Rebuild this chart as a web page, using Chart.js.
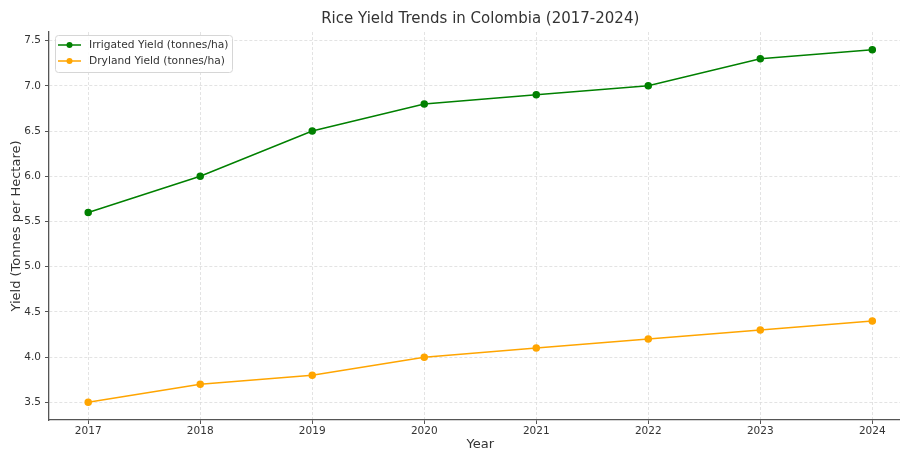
<!DOCTYPE html>
<html>
<head>
<meta charset="utf-8">
<script src="https://cdn.jsdelivr.net/npm/chart.js@4"></script>
<style>
  html, body { margin: 0; padding: 0; background: #fff; overflow: hidden; }
  #wrap { width: 900px; height: 449px; overflow: hidden; position: relative; }
</style>
</head>
<body>
<div id="wrap">
  <canvas id="riceChart" width="916" height="449"></canvas>
</div>
<script>
// Данные графика
const years = [2017, 2018, 2019, 2020, 2021, 2022, 2023, 2024];
const irrigatedYield = [5.6, 6.0, 6.5, 6.8, 6.9, 7.0, 7.3, 7.4];
const drylandYield = [3.5, 3.7, 3.8, 4.0, 4.1, 4.2, 4.3, 4.4];
const yTicks = [3.5, 4.0, 4.5, 5.0, 5.5, 6.0, 6.5, 7.0, 7.5];

const chartTitle = 'Rice Yield Trends in Colombia (2017-2024)';
const font = "'DejaVu Sans', sans-serif";

// Заголовок по центру области графика
const titlePlugin = {
    id: 'centerTitle',
    afterDraw(chart) {
        const ctx = chart.ctx;
        const area = chart.chartArea;
        ctx.save();
        ctx.font = '15px ' + font;
        ctx.fillStyle = '#333';
        ctx.textAlign = 'center';
        ctx.textBaseline = 'middle';
        ctx.fillText(chartTitle, (area.left + area.right) / 2, 19);
        ctx.restore();
    }
};

// Легенда внутри области графика
const legendPlugin = {
    id: 'innerLegend',
    afterDraw(chart) {
        const ctx = chart.ctx;
        const x = 55, y = 35, w = 177, h = 37;
        ctx.save();
        ctx.fillStyle = 'rgba(255,255,255,0.85)';
        ctx.strokeStyle = '#d6d6d6';
        ctx.lineWidth = 1;
        ctx.beginPath();
        ctx.roundRect(x + 0.5, y + 0.5, w, h, 3);
        ctx.fill();
        ctx.stroke();
        chart.data.datasets.forEach((ds, i) => {
            const rowY = 45 + i * 16;
            ctx.strokeStyle = ds.borderColor;
            ctx.lineWidth = 1.5;
            ctx.beginPath();
            ctx.moveTo(58, rowY);
            ctx.lineTo(81, rowY);
            ctx.stroke();
            ctx.fillStyle = ds.borderColor;
            ctx.beginPath();
            ctx.arc(69.5, rowY, 3, 0, Math.PI * 2);
            ctx.fill();
            ctx.fillStyle = '#333';
            ctx.font = '10.7px ' + font;
            ctx.textAlign = 'left';
            ctx.textBaseline = 'middle';
            ctx.fillText(ds.label, 89, rowY + 0.5);
        });
        ctx.restore();
    }
};

const toPoints = (values) => values.map((v, i) => ({ x: years[i], y: v }));

const gridStyle = {
    color: '#dcdcdc',
    lineWidth: 0.8,
    tickColor: '#555',
    tickLength: 4,
    tickWidth: 1
};
const borderStyle = { color: '#555', width: 1.3, dash: [3, 2] };

new Chart(document.getElementById('riceChart'), {
    type: 'line',
    data: {
        datasets: [
            {
                label: 'Irrigated Yield (tonnes/ha)',
                data: toPoints(irrigatedYield),
                borderColor: '#008000',
                backgroundColor: '#008000',
                borderWidth: 1.5,
                pointRadius: 3,
                pointHoverRadius: 3,
                tension: 0
            },
            {
                label: 'Dryland Yield (tonnes/ha)',
                data: toPoints(drylandYield),
                borderColor: '#FFA500',
                backgroundColor: '#FFA500',
                borderWidth: 1.5,
                pointRadius: 3,
                pointHoverRadius: 3,
                tension: 0
            }
        ]
    },
    options: {
        responsive: false,
        animation: false,
        devicePixelRatio: 1,
        layout: { padding: { top: 32, right: 0, left: 0, bottom: 0 } },
        plugins: {
            legend: { display: false },
            title: { display: false },
            tooltip: { enabled: false }
        },
        scales: {
            x: {
                type: 'linear',
                min: 2016.65,
                max: 2024.35,
                grid: gridStyle,
                border: borderStyle,
                ticks: {
                    stepSize: 1,
                    includeBounds: false,
                    padding: 1,
                    color: '#333',
                    font: { family: font, size: 10.5 },
                    callback: (v) => String(v)
                },
                title: {
                    display: true,
                    text: 'Year',
                    color: '#333',
                    font: { family: font, size: 13 },
                    padding: { top: 0, bottom: -3 }
                },
                afterFit(scale) { scale.height = 29; }
            },
            y: {
                min: 3.305,
                max: 7.595,
                grid: gridStyle,
                border: borderStyle,
                afterBuildTicks(scale) {
                    scale.ticks = yTicks.map(v => ({ value: v }));
                },
                ticks: {
                    padding: 4,
                    color: '#333',
                    font: { family: font, size: 10.5 },
                    callback: (v) => Number(v).toFixed(1)
                },
                title: {
                    display: true,
                    text: 'Yield (Tonnes per Hectare)',
                    color: '#333',
                    font: { family: font, size: 13 },
                    padding: { top: 9, bottom: 0 }
                },
                afterFit(scale) { scale.width = 49; }
            }
        }
    },
    plugins: [titlePlugin, legendPlugin]
});
</script>
</body>
</html>
